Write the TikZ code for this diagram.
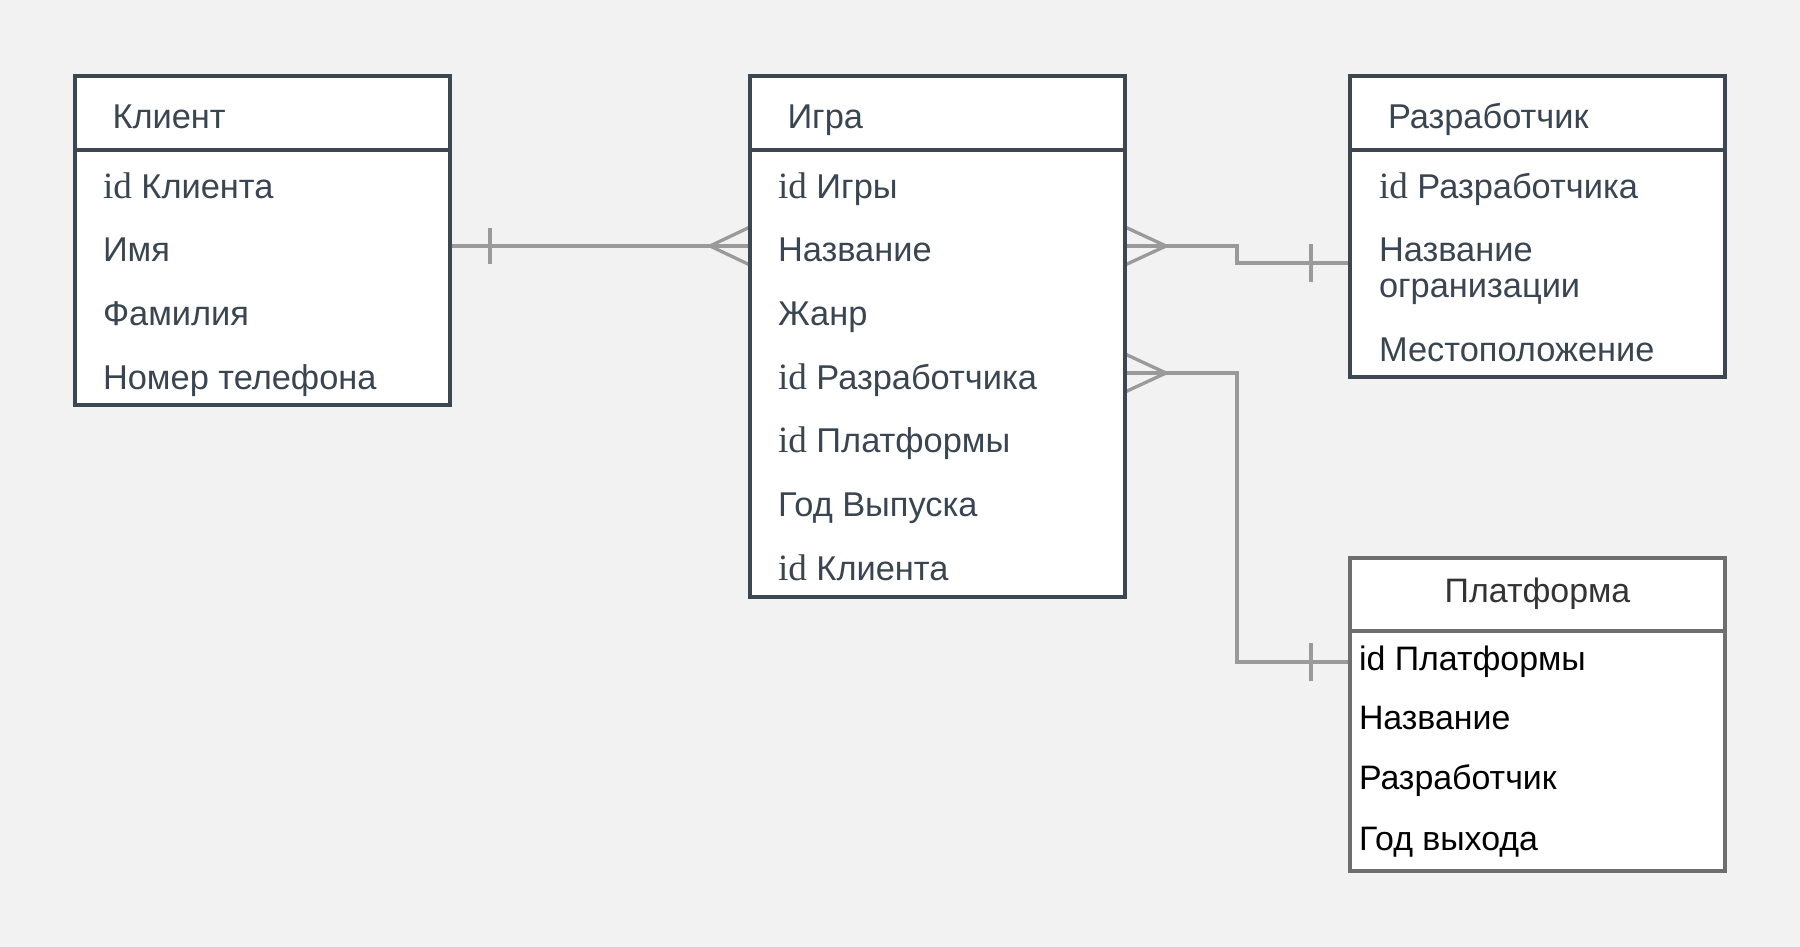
\documentclass[tikz,border=0pt]{standalone}
\usepackage{fontspec}
\setmainfont{Liberation Sans}
\newfontfamily\idf[Scale=1.08]{Liberation Serif}
\usetikzlibrary{backgrounds}
\definecolor{bg}{HTML}{F2F2F2}
\definecolor{ent}{HTML}{3D4752}
\definecolor{txt}{HTML}{3A4552}
\definecolor{conn}{HTML}{9A9A9A}
\definecolor{pbord}{HTML}{6E6E6E}
\definecolor{ptxt}{HTML}{333333}
\begin{document}
\begin{tikzpicture}[x=1pt,y=-1pt,
  box/.style={rectangle, draw=ent, line width=4pt, fill=white, minimum width=375pt, inner sep=0pt, outer sep=0pt},
  pbox/.style={box, draw=pbord},
  sepline/.style={draw=ent, line width=4pt},
  psepline/.style={draw=pbord, line width=4pt},
  lbl/.style={anchor=base west, inner sep=0pt, outer sep=0pt, text=txt, font=\fontsize{34.4}{41}\selectfont},
  plbl/.style={lbl, text=black, font=\fontsize{33.9}{41}\selectfont},
  phead/.style={anchor=base, inner sep=0pt, outer sep=0pt, text=ptxt, font=\fontsize{33.9}{41}\selectfont},
  rel/.style={draw=conn, line width=3.3pt, line join=miter}]
\useasboundingbox (0,0) rectangle (1800,947);

% entity boxes
\node[box, minimum height=329pt] (klient) at (262.5,240.5) {};
\node[box, minimum height=521pt] (igra) at (937.5,336.5) {};
\node[box, minimum height=300.5pt] (razr) at (1537.5,226.25) {};
\node[pbox, minimum height=313pt] (plat) at (1537.5,714.5) {};

\coordinate (hs) at (0,150.5);
\coordinate (ps) at (0,631);
\draw[sepline] (klient.west |- hs) -- (klient.east |- hs);
\draw[sepline] (igra.west |- hs) -- (igra.east |- hs);
\draw[sepline] (razr.west |- hs) -- (razr.east |- hs);
\draw[psepline] (plat.west |- ps) -- (plat.east |- ps);

% Клиент
\node[lbl] (kh) at (112.5,129) {Клиент};
\node[lbl] (k1) at (103,198) {{\idf id} Клиента};
\node[lbl] (k2) at (103,261.7) {Имя};
\node[lbl] (k3) at (103,325.4) {Фамилия};
\node[lbl] (k4) at (103,389.1) {Номер телефона};

% Игра
\node[lbl] (ih) at (787.5,129) {Игра};
\node[lbl] (i1) at (778,198) {{\idf id} Игры};
\node[lbl] (i2) at (778,261.7) {Название};
\node[lbl] (i3) at (778,325.4) {Жанр};
\node[lbl] (i4) at (778,389.1) {{\idf id} Разработчика};
\node[lbl] (i5) at (778,452.8) {{\idf id} Платформы};
\node[lbl] (i6) at (778,516.5) {Год Выпуска};
\node[lbl] (i7) at (778,580.2) {{\idf id} Клиента};

% Разработчик
\node[lbl] (rh) at (1388,129) {Разработчик};
\node[lbl] (r1) at (1379,198) {{\idf id} Разработчика};
\node[lbl] (r2) at (1379,261.7) {Название};
\node[lbl] (r2b) at (1379,297.7) {огранизации};
\node[lbl] (r3) at (1379,361) {Местоположение};

% Платформа
\node[phead] (ph) at (1537.5,602) {Платформа};
\node[plbl] (p1) at (1359,670) {id Платформы};
\node[plbl] (p2) at (1359,729.5) {Название};
\node[plbl] (p3) at (1359,789) {Разработчик};
\node[plbl] (p4) at (1359,850) {Год выхода};

% connectors
\coordinate (yA) at (0,246);
\coordinate (yB) at (0,263);
\coordinate (yC) at (0,373);
\coordinate (yD) at (0,662);
\coordinate (xm) at (1237,0);
\coordinate (c1s) at (klient.east |- yA);
\coordinate (c1e) at (igra.west |- yA);
\coordinate (c2s) at (igra.east |- yA);
\coordinate (c2e) at (razr.west |- yB);
\coordinate (c3s) at (igra.east |- yC);
\coordinate (c3e) at (plat.west |- yD);

\begin{scope}[on background layer]
\fill[bg] (0,0) rectangle (1800,947);
% Клиент -- Игра
\draw[rel] (c1s) -- (c1e);
\draw[rel] ([xshift=40pt]c1s) ++(0,-18) -- ++(0,36);
\draw[rel] ([xshift=-40pt]c1e) -- ++(40,-19);
\draw[rel] ([xshift=-40pt]c1e) -- ++(40,19);
% Игра -- Разработчик
\draw[rel] (c2s) -- (xm |- yA) -- (xm |- yB) -- (c2e);
\draw[rel] ([xshift=41pt]c2s) -- ++(-41,-19);
\draw[rel] ([xshift=41pt]c2s) -- ++(-41,19);
\draw[rel] ([xshift=-39pt]c2e) ++(0,-19) -- ++(0,38);
% Игра -- Платформа
\draw[rel] (c3s) -- (xm |- yC) -- (xm |- yD) -- (c3e);
\draw[rel] ([xshift=41pt]c3s) -- ++(-41,-19);
\draw[rel] ([xshift=41pt]c3s) -- ++(-41,19);
\draw[rel] ([xshift=-39pt]c3e) ++(0,-19) -- ++(0,38);
\end{scope}
\end{tikzpicture}
\end{document}
